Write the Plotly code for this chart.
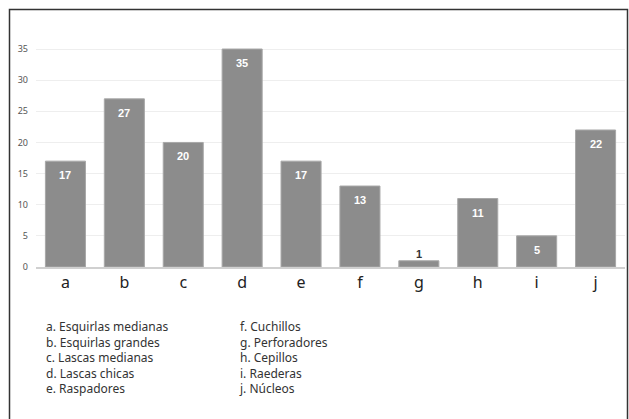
import plotly.graph_objects as go

categories = ["a", "b", "c", "d", "e", "f", "g", "h", "i", "j"]
counts = [17, 27, 20, 35, 17, 13, 1, 11, 5, 22]
tick_vals = [0, 5, 10, 15, 20, 25, 30, 35]
key_left = ["a. Esquirlas medianas", "b. Esquirlas grandes", "c. Lascas medianas",
            "d. Lascas chicas", "e. Raspadores"]
key_right = ["f. Cuchillos", "g. Perforadores", "h. Cepillos", "i. Raederas", "j. Núcleos"]

W, H = 629, 419
ML, MR, MT, MB = 36, 4, 40, 152
pw, ph = W - ML - MR, H - MT - MB


def px_x(x):
    return (x - ML) / pw


def px_y(y):
    return (H - MB - y) / ph


fig = go.Figure(go.Bar(
    x=categories, y=counts,
    marker=dict(color="#8c8c8c", line=dict(color="#a8a8a8", width=1)),
    hoverinfo="x+y",
))

# value labels: white inside the bar top, dark above bars too short to hold them
for cat, v in zip(categories, counts):
    inside = v >= 3
    fig.add_annotation(
        x=cat, y=v, xref="x", yref="y", showarrow=False,
        text=str(v),
        yanchor="top" if inside else "bottom",
        yshift=-6 if inside else -1,
        font=dict(family="Liberation Sans, Arial", size=11,
                  color="white" if inside else "#333333", weight="bold"),
    )

fig.update_layout(
    width=W, height=H,
    margin=dict(l=ML, r=MR, t=MT, b=MB),
    paper_bgcolor="white", plot_bgcolor="white",
    bargap=0.32,
    showlegend=False,
    xaxis=dict(
        showgrid=False, showline=True, linecolor="#d0d0d0", linewidth=1.5,
        ticks="", tickfont=dict(family="Noto Sans", size=16, color="#222222"),
        ticklabelstandoff=0,
    ),
    yaxis=dict(
        range=[0, 36.45], tickvals=tick_vals, showgrid=True, gridcolor="#eeeeee",
        gridwidth=1, zeroline=False, showline=False, ticks="",
        tickfont=dict(family="Noto Sans", size=9, color="#555555"),
        ticklabelstandoff=7,
    ),
    shapes=[dict(
        type="rect", xref="paper", yref="paper",
        x0=px_x(9.5), x1=px_x(627.5), y0=px_y(440), y1=px_y(9.5),
        line=dict(color="#333333", width=1.5), fillcolor="rgba(0,0,0,0)",
        layer="above",
    )],
)

# key to the category letters, in two columns
for xs, lines in ((45, key_left), (238, key_right)):
    fig.add_annotation(
        xref="paper", yref="paper", x=px_x(xs), y=px_y(317),
        xanchor="left", yanchor="top", align="left", showarrow=False,
        borderpad=0, text="<br>".join(lines),
        font=dict(family="Noto Sans", size=12, color="#333333"),
    )

fig.write_html("out.html")
